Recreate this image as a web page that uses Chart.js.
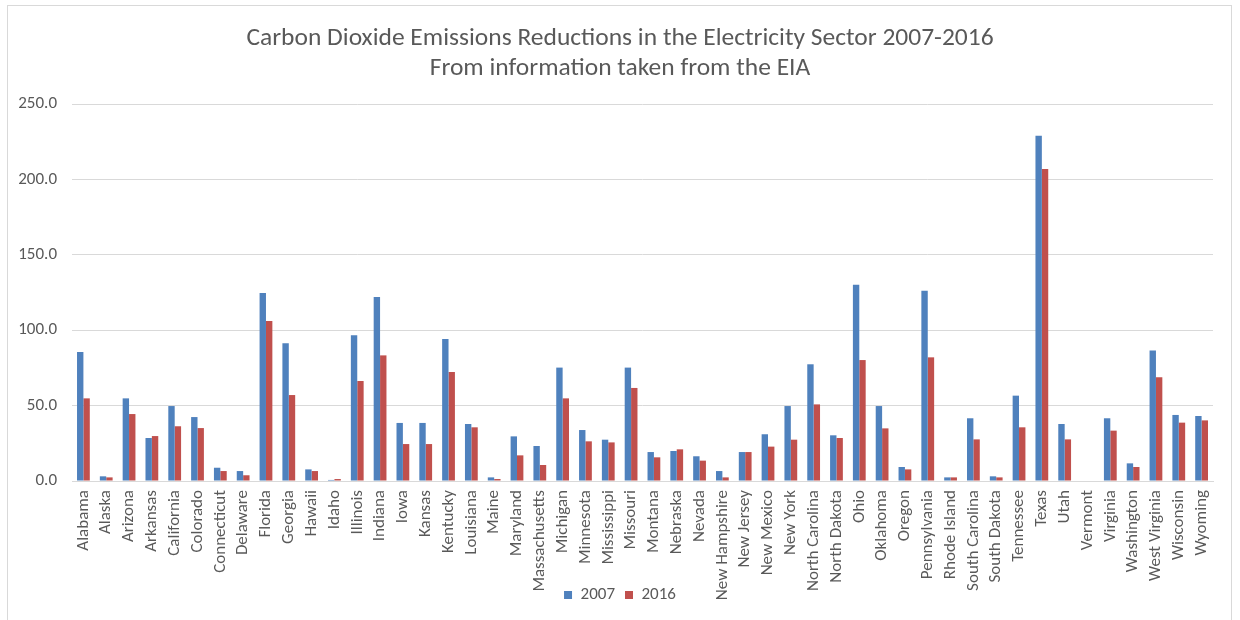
<!DOCTYPE html>
<html>
<head>
<meta charset="utf-8">
<script src="https://cdn.jsdelivr.net/npm/chart.js@4/dist/chart.umd.min.js"></script>
<style>
  html, body { margin: 0; padding: 0; background: #fff; overflow: hidden; }
  #frame {
    position: absolute; left: 7px; top: 5px; width: 1225px; height: 640px;
    border: 1px solid #D9D9D9; box-sizing: border-box; pointer-events: none;
  }
  #wrap { position: absolute; left: 0; top: 0; width: 1240px; height: 620px; }
</style>
</head>
<body>
<div id="wrap"><canvas id="c" width="1240" height="620"></canvas></div>
<div id="frame"></div>
<script>
// States in alphabetical order
const states = [
  "Alabama","Alaska","Arizona","Arkansas","California","Colorado","Connecticut","Delaware",
  "Florida","Georgia","Hawaii","Idaho","Illinois","Indiana","Iowa","Kansas","Kentucky",
  "Louisiana","Maine","Maryland","Massachusetts","Michigan","Minnesota","Mississippi",
  "Missouri","Montana","Nebraska","Nevada","New Hampshire","New Jersey","New Mexico",
  "New York","North Carolina","North Dakota","Ohio","Oklahoma","Oregon","Pennsylvania",
  "Rhode Island","South Carolina","South Dakota","Tennessee","Texas","Utah","Vermont",
  "Virginia","Washington","West Virginia","Wisconsin","Wyoming"
];

// Electricity-sector CO2 emissions (million metric tons)
const emissions2007 = [
  85.5, 3.1, 54.8, 28.5, 49.7, 42.4, 8.8, 6.6,
  124.7, 91.3, 7.7, 0.7, 96.6, 122.0, 38.5, 38.5, 94.2,
  37.8, 2.4, 29.6, 23.2, 75.2, 33.8, 27.4,
  75.2, 19.2, 19.9, 16.4, 6.6, 19.2, 31.0,
  49.7, 77.4, 30.3, 130.2, 49.7, 9.3, 126.2,
  2.4, 41.6, 3.1, 56.6, 229.0, 37.8, 0,
  41.6, 11.7, 86.6, 43.8, 43.1
];
const emissions2016 = [
  54.8, 2.4, 44.4, 29.8, 36.3, 35.1, 6.6, 3.8,
  106.1, 57.0, 6.6, 1.3, 66.3, 83.3, 24.5, 24.5, 72.3,
  35.6, 1.3, 17.0, 10.6, 54.8, 26.3, 25.6,
  61.7, 15.7, 21.0, 13.5, 2.4, 19.2, 22.8,
  27.4, 50.8, 28.5, 80.2, 34.9, 7.7, 82.0,
  2.4, 27.6, 2.4, 35.6, 206.9, 27.6, 0,
  33.4, 9.3, 68.8, 38.7, 40.2
];

const titleLines = [
  "Carbon Dioxide Emissions Reductions in the Electricity Sector 2007-2016",
  "From information taken from the EIA"
];

const FONT = "Carlito, Lato, 'Liberation Sans', sans-serif";
const TEXT = "#595959";
const GRID = "#D9D9D9";

// Long rotated state names run past the axis box into the legend row;
// widen the label clip region so they are drawn in full.
const fullLabelClip = {
  id: "fullLabelClip",
  afterLayout(chart) {
    chart.scales.x.bottom = chart.height;
  }
};

new Chart(document.getElementById("c"), {
  type: "bar",
  data: {
    labels: states,
    datasets: [
      { label: "2007", data: emissions2007, backgroundColor: "#4F81BD", borderWidth: 0 },
      { label: "2016", data: emissions2016, backgroundColor: "#C0504D", borderWidth: 0 }
    ]
  },
  plugins: [fullLabelClip],
  options: {
    responsive: false,
    animation: false,
    layout: { padding: { left: 17, right: 17, top: 0, bottom: 6.5 } },
    datasets: { bar: { categoryPercentage: 0.56, barPercentage: 1.0 } },
    plugins: {
      title: {
        display: true,
        text: titleLines,
        color: TEXT,
        font: { family: FONT, size: 25.5, weight: "normal", lineHeight: 30 / 25.5 },
        padding: { top: 24, bottom: 20 }
      },
      legend: {
        position: "bottom",
        labels: {
          color: TEXT,
          font: { family: FONT, size: 17 },
          boxWidth: 8, boxHeight: 8, padding: 10
        }
      },
      tooltip: { enabled: false }
    },
    scales: {
      x: {
        grid: { display: false, drawTicks: false },
        border: { display: true, color: GRID, width: 1 },
        ticks: {
          color: TEXT, font: { family: FONT, size: 17 },
          autoSkip: false, minRotation: 90, maxRotation: 90, padding: 9
        },
        afterFit(scale) { scale.height = 95.5; }
      },
      y: {
        min: 0, max: 250,
        grid: { color: GRID, lineWidth: 1, drawTicks: false },
        border: { display: false },
        ticks: {
          stepSize: 50, color: TEXT, font: { family: FONT, size: 17 }, padding: 15,
          callback: (v) => Number(v).toFixed(1)
        },
        afterFit(scale) { scale.width = 55; }
      },
      // empty right-hand margin so the plot ends where the frame's inner edge does
      yRight: {
        position: "right",
        display: true,
        grid: { display: false, drawTicks: false },
        border: { display: false },
        ticks: { display: false },
        afterFit(scale) { scale.width = 10; }
      }
    }
  }
});
</script>
</body>
</html>
